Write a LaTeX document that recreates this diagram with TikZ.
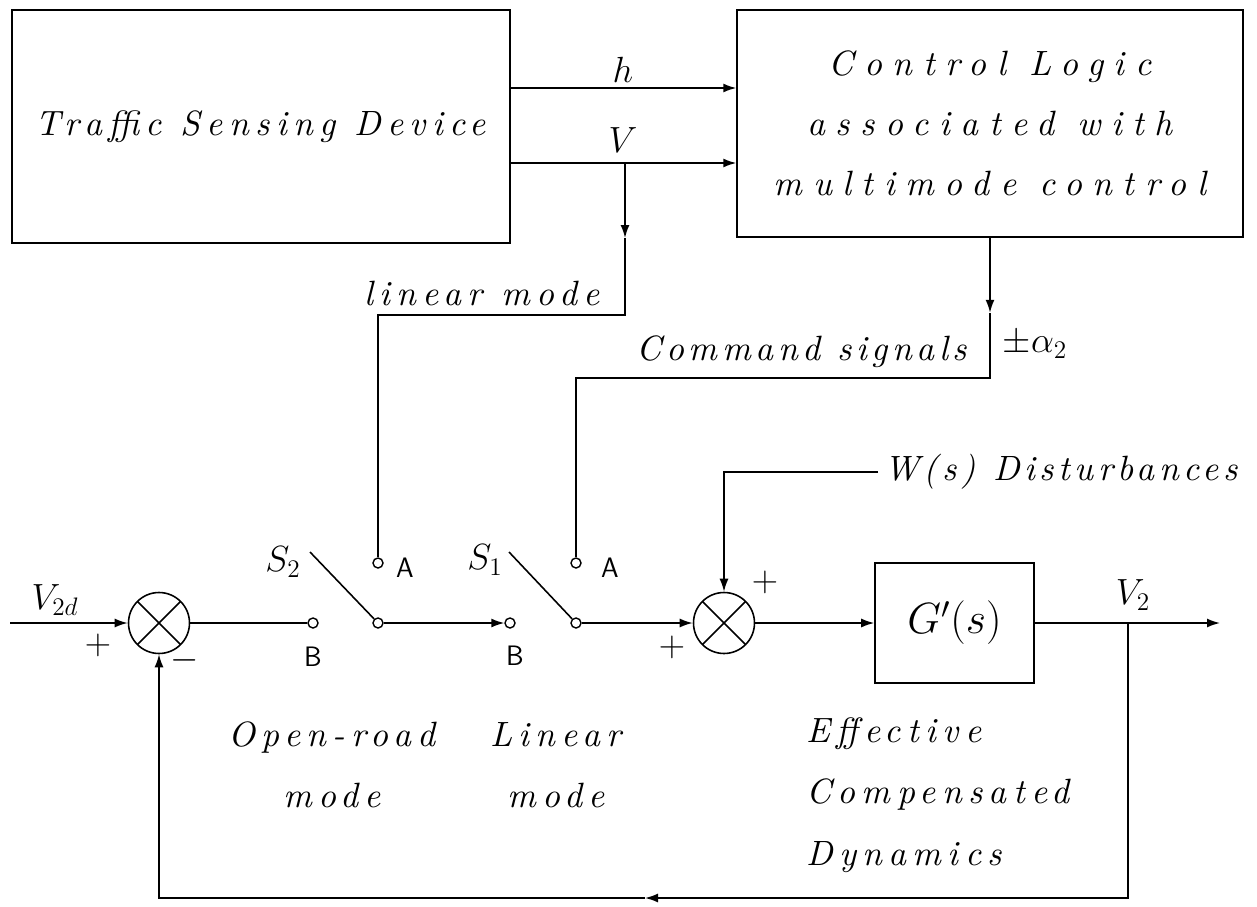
\documentclass[tikz,border=0pt]{standalone}
\usepackage{fontspec}
\usepackage{amsmath}
\newfontfamily\handfont{lmroman10-italic.otf}[LetterSpace=18]
\newfontfamily\widehandfont{lmroman10-italic.otf}[LetterSpace=30]
\newfontfamily\narrowhandfont{lmroman10-italic.otf}[LetterSpace=13]
\usetikzlibrary{arrows.meta, positioning, calc}
\tikzset{
    handtext/.style={font=\fontsize{20}{35}\selectfont\handfont},
    narrowtext/.style={font=\fontsize{20}{35}\selectfont\narrowhandfont},
    blockbox/.style={rectangle, draw=black, line width=0.9pt, align=center, handtext},
    sumjunction/.style={circle, draw=black, line width=0.9pt, minimum size=1.22cm, inner sep=0pt,
        path picture={\draw[line width=0.9pt] (path picture bounding box.south west) -- (path picture bounding box.north east)
            (path picture bounding box.north west) -- (path picture bounding box.south east);}},
    terminal/.style={circle, draw=black, fill=white, line width=0.8pt, minimum size=0.2cm, inner sep=0pt},
    sigline/.style={-{Latex[length=2.6mm, width=1.8mm]}, line width=0.9pt},
    plainline/.style={line width=0.9pt},
    termlabel/.style={font=\fontsize{16}{18}\selectfont\sffamily},
    mathlabel/.style={font=\fontsize{20}{22}\selectfont},
}
\begin{document}
\begin{tikzpicture}[x=0.02cm, y=-0.02cm]
                \useasboundingbox (0,0) rectangle (1257,906);
                \node[blockbox, minimum width=9.96cm, minimum height=4.66cm] (tsd) at (261,126.5) {Traffic Sensing Device};
                \node[blockbox, minimum width=10.12cm, minimum height=4.54cm, font=\fontsize{20}{34}\selectfont\widehandfont] (ctl) at (990,123.5) {Control Logic\\associated with\\multimode control};
                \node[blockbox, minimum width=3.18cm, minimum height=2.4cm, font=\fontsize{24}{26}\selectfont] (plant) at (954.5,623) {$G'(s)$};
                \node[sumjunction] (sum1) at (159,623) {};
                \node[sumjunction] (sum2) at (724,623) {};
                \node[terminal] (B2) at (313,623) {};
                \node[terminal] (P2) at (378,623) {};
                \node[terminal] (A2) at (378,563) {};
                \node[terminal] (B1) at (510,623) {};
                \node[terminal] (P1) at (576,623) {};
                \node[terminal] (A1) at (576,563) {};
                \coordinate (s2tip) at (310,552);
                \coordinate (s1tip) at (509,552);
                \coordinate (vin) at (10,623);
                \coordinate (vout) at (1220,623);
                \coordinate (fbsplit) at (1128,623);
                \coordinate (fbmid) at (645,898);
                \coordinate (vsplit) at (625,163);
                \node[termlabel] (labA2) at (405,568) {A};
                \node[termlabel] (labA1) at (610,568) {A};
                \node[termlabel] (labB2) at (313,657) {B};
                \node[termlabel] (labB1) at (515,656) {B};
                \node[mathlabel] (labS2) at (283,562) {$S_2$};
                \node[mathlabel] (labS1) at (485,560) {$S_1$};
                \node[mathlabel] (labVd) at (55,600) {$V_{2d}$};
                \node[mathlabel] (labV2) at (1133,595) {$V_2$};
                \node[mathlabel] (labh) at (623,70) {$h$};
                \node[mathlabel] (labV) at (623,140) {$V$};
                \node[mathlabel] (labal) at (1035,345) {$\pm\alpha_2$};
                \node[mathlabel] (plus1) at (98,645) {$+$};
                \node[mathlabel] (minus1) at (185,660) {$-$};
                \node[mathlabel] (plus2) at (672,647) {$+$};
                \node[mathlabel] (plus3) at (765,582) {$+$};
                \node[handtext] (lmlab) at (482,293) {linear mode};
                \node[narrowtext] (cslab) at (802,352) {Command signals};
                \node[narrowtext, anchor=west] (dist) at (878,472) {W(s) Disturbances};
                \node[handtext, align=center] (orlab) at (332,765) {Open-road\\mode};
                \node[handtext, align=center] (lnlab) at (556,765) {Linear\\mode};
                \node[handtext, align=left, anchor=west] (eclab) at (800,795) {Effective\\Compensated\\Dynamics};
                \draw[sigline] ($(tsd.east)+(0,-38.5)$) coordinate (hstart) -- (hstart -| ctl.west);
                \draw[sigline] ($(tsd.east)+(0,36.5)$) coordinate (vstart) -- (vstart -| ctl.west);
                \draw[sigline] (vsplit) -- ++(0,75) coordinate (lmarrow);
                \draw[plainline] (lmarrow) -- ++(0,77) -| (A2.north);
                \draw[sigline] (ctl.south) -- ++(0,75) coordinate (csarrow);
                \draw[plainline] (csarrow) -- ++(0,65) -| (A1.north);
                \draw[sigline] (vin) -- (sum1);
                \draw[plainline] (sum1) -- (B2);
                \draw[plainline] (P2) -- (s2tip);
                \draw[sigline] (P2) -- (B1);
                \draw[plainline] (P1) -- (s1tip);
                \draw[sigline] (P1) -- (sum2);
                \draw[sigline] (dist.west) -| (sum2.north);
                \draw[sigline] (sum2) -- (plant);
                \draw[sigline] (plant) -- (vout);
                \draw[sigline] (fbsplit) |- (fbmid);
                \draw[sigline] (fbmid) -| (sum1.south);
            \end{tikzpicture}
\end{document}
